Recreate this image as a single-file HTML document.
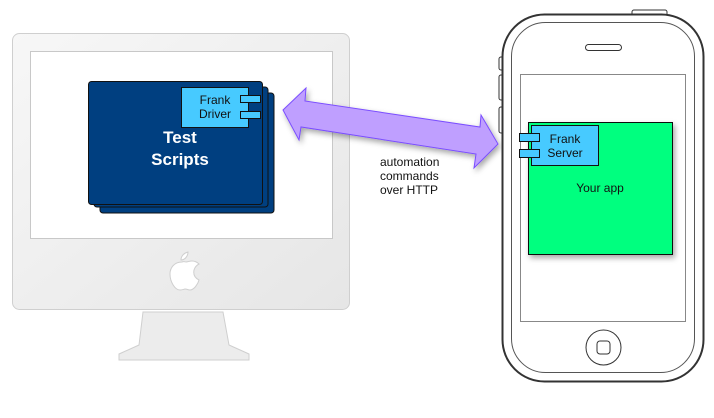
<!DOCTYPE html>
<html><head><meta charset="utf-8"><style>body{margin:0;background:#fff}svg{display:block}</style></head><body>
<svg width="714" height="418" viewBox="0 0 714 418" xmlns="http://www.w3.org/2000/svg" font-family="Liberation Sans, sans-serif">
<defs>
<linearGradient id="mg" x1="0" y1="0" x2="1" y2="1"><stop offset="0" stop-color="#f7f7f7"/><stop offset="1" stop-color="#e6e6e6"/></linearGradient>
<filter id="sh" x="-10%" y="-10%" width="130%" height="130%"><feDropShadow dx="2" dy="3" stdDeviation="3" flood-opacity="0.35"/></filter>
</defs>
<!-- monitor -->
<path d="M143 312 L223 312 L229 345 L249 354 L249 360 L119 360 L119 354 L139 345 Z" fill="#ececec" stroke="#cfcfcf"/>
<rect x="12.5" y="33.5" width="337" height="276" rx="7" fill="url(#mg)" stroke="#cfcfcf"/>
<rect x="30.5" y="51.5" width="302" height="187" fill="#fff" stroke="#c8c8c8"/>
<path d="M182 262 c-8 0 -12 6 -12 12 c0 8 5 16 10 16 c3 0 4-1 5-1 c2 0 3 1 5 1 c4 0 8-6 9-10 c-4-2-6-5-5-10 c1-3 3-5 5-6 c-2-2-4-3-7-3 c-3 0-4 1-6 1 c-1 0-2-1-4-0z M188 252 c0 4-3 8-7 8 c0-4 3-7 7-8z" fill="#fff" stroke="#cfcfcf"/>
<!-- test scripts stack -->
<rect x="100" y="93" width="174" height="120" rx="3" fill="#003f80" stroke="#111"/>
<rect x="94" y="87" width="174" height="120" rx="3" fill="#003f80" stroke="#111"/>
<rect x="88.5" y="81.5" width="174" height="123" rx="3" fill="#003f80" stroke="#111"/>
<rect x="181.5" y="87.5" width="67" height="40" fill="#47caff" stroke="#111"/>
<rect x="240.5" y="95.5" width="20" height="7" fill="#47caff" stroke="#111"/>
<rect x="240.5" y="111.5" width="20" height="7" fill="#47caff" stroke="#111"/>
<text x="215" y="104" font-size="12" text-anchor="middle" fill="#111">Frank</text>
<text x="215" y="118" font-size="12" text-anchor="middle" fill="#111">Driver</text>
<text x="180" y="143" font-size="17" font-weight="bold" text-anchor="middle" fill="#fff">Test</text>
<text x="180" y="165" font-size="17" font-weight="bold" text-anchor="middle" fill="#fff">Scripts</text>
<!-- arrow -->
<path d="M283 110 L306 88 L305 101 L480 127 L481 115 L498 144 L474 168 L476 154 L301 127 L299 140 Z" fill="#bf9fff" stroke="#7a4dff" filter="url(#sh)"/>
<text font-size="12" fill="#111"><tspan x="380" y="166">automation</tspan><tspan x="380" y="180">commands</tspan><tspan x="380" y="194">over HTTP</tspan></text>
<!-- phone -->
<rect x="632" y="10" width="35" height="6" rx="2" fill="#fff" stroke="#333"/>
<rect x="499" y="57" width="6" height="13" rx="2" fill="#fff" stroke="#333"/>
<rect x="499" y="75" width="6" height="25" rx="2" fill="#fff" stroke="#333"/>
<rect x="499" y="107" width="6" height="26" rx="2" fill="#fff" stroke="#333"/>
<rect x="502.5" y="14.5" width="201" height="367" rx="42" fill="#fff" stroke="#333" stroke-width="2"/>
<rect x="511.5" y="22.5" width="183" height="350" rx="34" fill="#fff" stroke="#555"/>
<rect x="585.5" y="44.5" width="36" height="6" rx="3" fill="#fff" stroke="#333"/>
<rect x="520.5" y="74.5" width="165" height="247" fill="#fff" stroke="#888"/>
<circle cx="603.5" cy="347.5" r="17.5" fill="#fff" stroke="#333"/>
<rect x="597" y="341" width="13" height="13" rx="3" fill="#fff" stroke="#333"/>
<!-- app -->
<rect x="528.5" y="122.5" width="144" height="132" fill="#00ff7f" stroke="#111" filter="url(#sh)"/>
<rect x="531.5" y="125.5" width="67" height="40" fill="#47caff" stroke="#111"/>
<rect x="519.5" y="133.5" width="20" height="8" fill="#47caff" stroke="#111"/>
<rect x="519.5" y="149.5" width="20" height="8" fill="#47caff" stroke="#111"/>
<text x="565" y="143" font-size="12" text-anchor="middle" fill="#111">Frank</text>
<text x="565" y="157" font-size="12" text-anchor="middle" fill="#111">Server</text>
<text x="600" y="192" font-size="12" text-anchor="middle" fill="#111">Your app</text>
</svg>
</body></html>
